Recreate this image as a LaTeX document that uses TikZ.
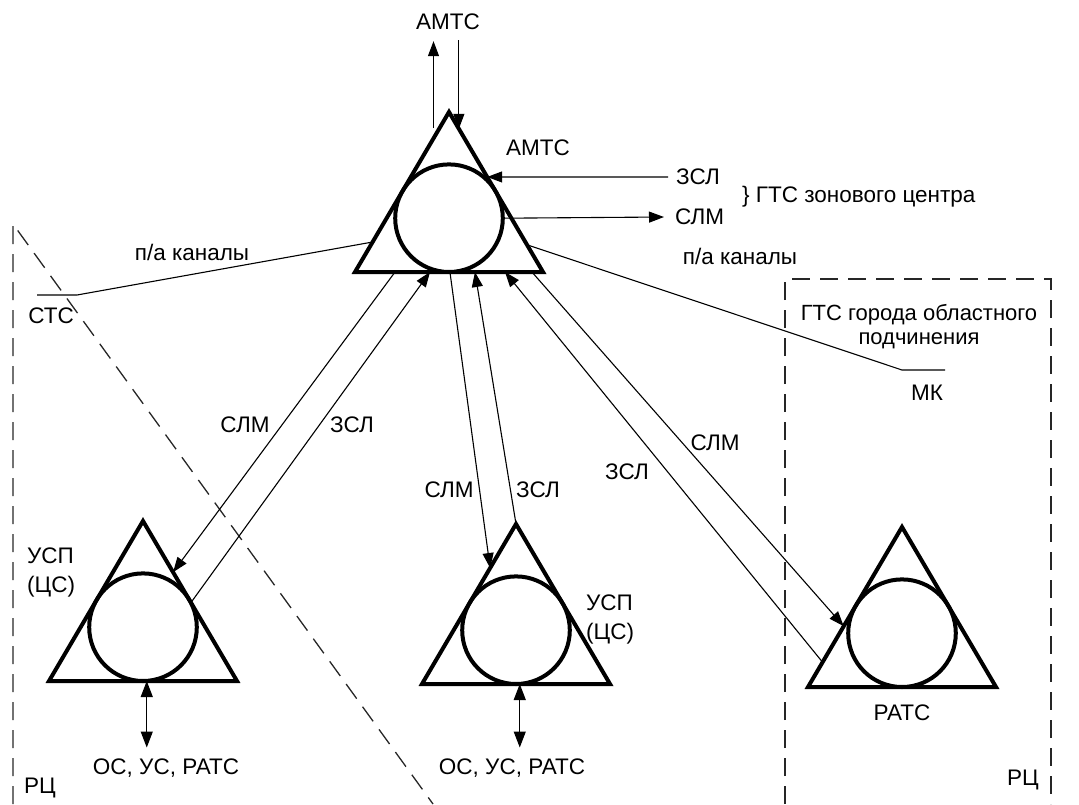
\documentclass[tikz,border=0pt]{standalone}
\usepackage{fontspec}
\setmainfont{Liberation Sans}
\usetikzlibrary{arrows.meta,calc}
\begin{document}
\begin{tikzpicture}[x=1pt,y=-1pt,
  lbl/.style={inner sep=1pt,font=\fontsize{22.5}{27}\selectfont},
  heavy/.style={line width=4pt},
  link/.style={line width=1.1pt},
  arrowto/.style={-{Triangle[length=15pt,width=11pt]}},
  twoway/.style={{Triangle[length=16pt,width=12pt]}-{Triangle[length=16pt,width=12pt]}},
  zone/.style={line width=1.3pt,black!85,dash pattern=on 18pt off 10pt},
  station/.pic={
    \coordinate (-top) at (0,0);
    \coordinate (-bl) at (-94,160);
    \coordinate (-br) at (94,160);
    \draw[heavy] (-top) -- (-bl) -- (-br) -- cycle;
    \node[circle,draw,heavy,minimum size=107.6pt,inner sep=0pt,outer sep=0pt] (-c) at (0,106.2) {};
  }
]
\useasboundingbox (0,0) rectangle (1079,804);

% zone boundaries
\draw[zone] (13,804) -- (13,224) -- (433,804);
\draw[zone] (785,804) -- (785,279) -- (1051,279) -- (1051,804);

% exchanges
\pic (T) at (449,112) {station};
\pic (L) at (143,521) {station};
\pic (M) at (516,524) {station};
\pic (R) at (902,527) {station};

% trunk to the long-distance exchange
\node[lbl] (amts) at (448,22) {АМТС};
\coordinate (upfoot) at ($(T-top)+(-15.5,16)$);
\draw[link,arrowto,shorten >=10pt] (upfoot) -- (upfoot |- amts.south);
\coordinate (dnend) at ($(T-top)!0.105!(T-br)$);
\draw[link,arrowto,shorten <=9pt] (dnend |- amts.south) -- (dnend);
\node[lbl] (amtsT) at (538,148) {АМТС};

% zone centre city network
\node[lbl,anchor=west] (zslT) at (675,177) {ЗСЛ};
\draw[link,arrowto] ([xshift=-7pt]zslT.west) -- ($(T-top)!0.406!(T-br)$);
\node[lbl,anchor=west] (slmT) at (674,217) {СЛМ};
\draw[link,arrowto] (T-c.east) -- ([xshift=-10pt]slmT.west);
\node[lbl,anchor=west] (gtsz) at (741,197) {\} ГТС зонового центра};

% rural network channels
\coordinate (ctsEnd) at (77,295);
\coordinate (ctsTail) at (37,295);
\draw[link] ($(T-top)!0.8125!(T-bl)$) -- (ctsEnd) -- (ctsTail);
\node[lbl] (cts) at (51,316) {СТС};
\node[lbl] (paL) at (192,252) {п/а каналы};

% channels to the regional town
\coordinate (mkEnd) at (902,370);
\coordinate (mkTail) at (945,370);
\draw[link] ($(T-top)!0.83!(T-br)$) -- (mkEnd) -- (mkTail);
\node[lbl] (mk) at (927,393) {МК};
\node[lbl] (paR) at (740,256) {п/а каналы};
\node[lbl,align=center,font=\fontsize{22}{24}\selectfont] (gtsR) at (919,327) {ГТС города областного\\подчинения};

% left node links
\draw[link,arrowto] ($(T-bl)!0.213!(T-br)$) -- ($(L-top)!0.32!(L-br)$);
\draw[link,arrowto] ($(L-top)!0.51!(L-br)$) -- ($(T-bl)!0.399!(T-br)$);
\node[lbl] (slmL) at (245,425) {СЛМ};
\node[lbl] (zslL) at (352,425) {ЗСЛ};

% middle node links
\draw[link,arrowto] ($(T-bl)!0.505!(T-br)$) -- ($(M-top)!0.275!(M-bl)$);
\draw[link,arrowto] (M-top) -- ($(T-bl)!0.638!(T-br)$);
\node[lbl] (slmM) at (449,490) {СЛМ};
\node[lbl] (zslM) at (538,490) {ЗСЛ};

% regional exchange links
\draw[link,arrowto] ($(R-top)!0.845!(R-bl)$) -- ($(T-bl)!0.798!(T-br)$);
\draw[link,arrowto] ($(T-bl)!0.941!(T-br)$) -- ($(R-top)!0.62!(R-bl)$);
\node[lbl] (zslR) at (627,472) {ЗСЛ};
\node[lbl] (slmR) at (715,443) {СЛМ};

% local exchanges below the nodes
\node[lbl] (osL) at (166,768) {ОС, УС, РАТС};
\coordinate (Lfoot) at ($(L-bl)!0.52!(L-br)$);
\draw[link,twoway,shorten >=10pt] (Lfoot) -- (Lfoot |- osL.north);
\node[lbl] (osM) at (512,768) {ОС, УС, РАТС};
\coordinate (Mfoot) at ($(M-bl)!0.52!(M-br)$);
\draw[link,twoway,shorten >=10pt] (Mfoot) -- (Mfoot |- osM.north);

% node captions
\node[lbl,align=left,anchor=west,font=\fontsize{22.5}{29}\selectfont] (uspL) at (26,572) {УСП\\(ЦС)};
\node[lbl,align=left,anchor=west,font=\fontsize{22.5}{29}\selectfont] (uspM) at (585,619) {УСП\\(ЦС)};
\node[lbl] (rats) at (902,713) {РАТС};
\node[lbl] (rcL) at (40,788) {РЦ};
\node[lbl] (rcR) at (1023,780) {РЦ};
\end{tikzpicture}
\end{document}
